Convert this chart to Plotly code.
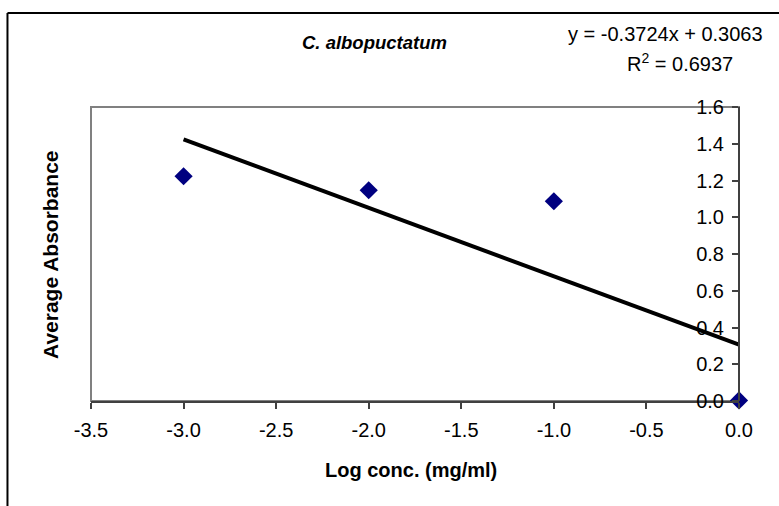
import plotly.graph_objects as go

# Data
log_conc = [-3.0, -2.0, -1.0, 0.0]
avg_absorbance = [1.223, 1.147, 1.087, 0.003]
slope = -0.3724
intercept = 0.3063
r_squared = 0.6937
trend_x = [-3.0, 0.0]
x_ticks = [-3.5, -3.0, -2.5, -2.0, -1.5, -1.0, -0.5, 0.0]
y_ticks = [0.0, 0.2, 0.4, 0.6, 0.8, 1.0, 1.2, 1.4, 1.6]

trend_y = [slope * x + intercept for x in trend_x]

FONT = "Liberation Sans, Arial, sans-serif"

fig = go.Figure()
fig.add_trace(go.Scatter(
    x=trend_x, y=trend_y, mode="lines",
    line=dict(color="black", width=4), showlegend=False, hoverinfo="skip",
    cliponaxis=False))
fig.add_trace(go.Scatter(
    x=log_conc, y=avg_absorbance, mode="markers",
    marker=dict(symbol="diamond", size=14, color="#000080"),
    showlegend=False, cliponaxis=False))

fig.update_layout(
    width=779, height=506, autosize=False,
    margin=dict(l=91, r=40, t=107, b=105),
    paper_bgcolor="white", plot_bgcolor="white",
    font=dict(family=FONT, size=20, color="black"),
    xaxis=dict(range=[-3.5, 0], tickvals=x_ticks,
               ticktext=[f"{v:.1f}" for v in x_ticks],
               showgrid=False, zeroline=False,
               showline=True, linecolor="#404040", linewidth=2,
               ticks="outside", ticklen=6, tickcolor="#404040", tickwidth=1.5,
               ticklabelstandoff=4,
               tickfont=dict(size=20)),
    yaxis=dict(range=[0, 1.6], tickvals=y_ticks,
               ticktext=[f"{v:.1f}" for v in y_ticks],
               anchor="free", position=1.0, side="left",
               showgrid=False, zeroline=False,
               showline=True, linecolor="#404040", linewidth=2,
               ticks="outside", ticklen=6, tickcolor="#404040", tickwidth=1.5,
               ticklabelstandoff=4,
               tickfont=dict(size=20)),
    shapes=[
        dict(type="rect", xref="paper", yref="paper", x0=0, x1=1, y0=0, y1=1,
             line=dict(color="#808080", width=2), layer="below"),
        dict(type="line", xref="paper", yref="paper", x0=-0.1289, x1=1.2,
             y0=1.3197, y1=1.3197, line=dict(color="black", width=2)),
        dict(type="line", xref="paper", yref="paper", x0=-0.1289, x1=-0.1289,
             y0=1.3197, y1=-0.5, line=dict(color="black", width=2)),
    ],
    annotations=[
        dict(text="<b><i>C. albopuctatum</i></b>", xref="paper", yref="paper",
             x=0.438, y=1.221, showarrow=False, xanchor="center", yanchor="middle",
             font=dict(size=18.5)),
        dict(text=f"y = {slope:.4f}x + {intercept:.4f}", xref="paper", yref="paper",
             x=0.886, y=1.248, showarrow=False, xanchor="center", yanchor="middle",
             font=dict(size=20)),
        dict(text=f"R<sup>2</sup> = {r_squared:.4f}", xref="paper", yref="paper",
             x=0.909, y=1.150, showarrow=False, xanchor="center", yanchor="middle",
             font=dict(size=20)),
        dict(text="<b>Average Absorbance</b>", xref="paper", yref="paper",
             x=-0.0633, y=0.5, textangle=-90, showarrow=False,
             xanchor="center", yanchor="middle", font=dict(size=21)),
        dict(text="<b>Log conc. (mg/ml)</b>", xref="paper", yref="paper",
             x=0.494, y=-0.235, showarrow=False, xanchor="center", yanchor="middle",
             font=dict(size=20)),
    ],
)

fig.write_html("out.html")
